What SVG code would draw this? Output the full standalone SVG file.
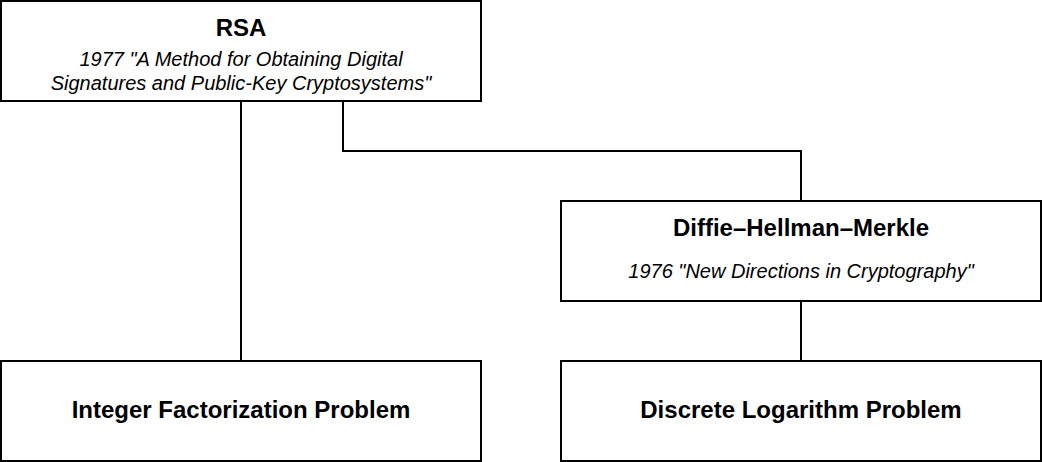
<svg xmlns="http://www.w3.org/2000/svg" width="1042" height="462" viewBox="0 0 1042 462">
<style>
.box{fill:#fff;stroke:#000;stroke-width:2}
.edge{fill:none;stroke:#000;stroke-width:2}
.t{font-family:"Liberation Sans",Arial,sans-serif;font-weight:bold;font-size:24px;fill:#000;text-anchor:middle}
.s{font-family:"Liberation Sans",Arial,sans-serif;font-style:italic;font-size:20px;fill:#000;text-anchor:middle}
</style>
<rect width="1042" height="462" fill="#fff"/>
<g id="connectors">
<path class="edge" d="M241 101V361"/>
<path class="edge" d="M343 101V151H801V201"/>
<path class="edge" d="M801 301V361"/>
</g>
<g id="rsa">
<rect class="box" x="1" y="1" width="480" height="100"/>
<text class="t" x="241" y="36">RSA</text>
<text class="s" x="241" y="66">1977 "A Method for Obtaining Digital</text>
<text class="s" x="241" y="90">Signatures and Public-Key Cryptosystems"</text>
</g>
<g id="dhm">
<rect class="box" x="561" y="201" width="480" height="100"/>
<text class="t" x="801" y="236">Diffie–Hellman–Merkle</text>
<text class="s" x="801" y="278">1976 "New Directions in Cryptography"</text>
</g>
<g id="ifp">
<rect class="box" x="1" y="361" width="480" height="100"/>
<text class="t" x="241" y="418">Integer Factorization Problem</text>
</g>
<g id="dlp">
<rect class="box" x="561" y="361" width="480" height="100"/>
<text class="t" x="801" y="418">Discrete Logarithm Problem</text>
</g>
</svg>
